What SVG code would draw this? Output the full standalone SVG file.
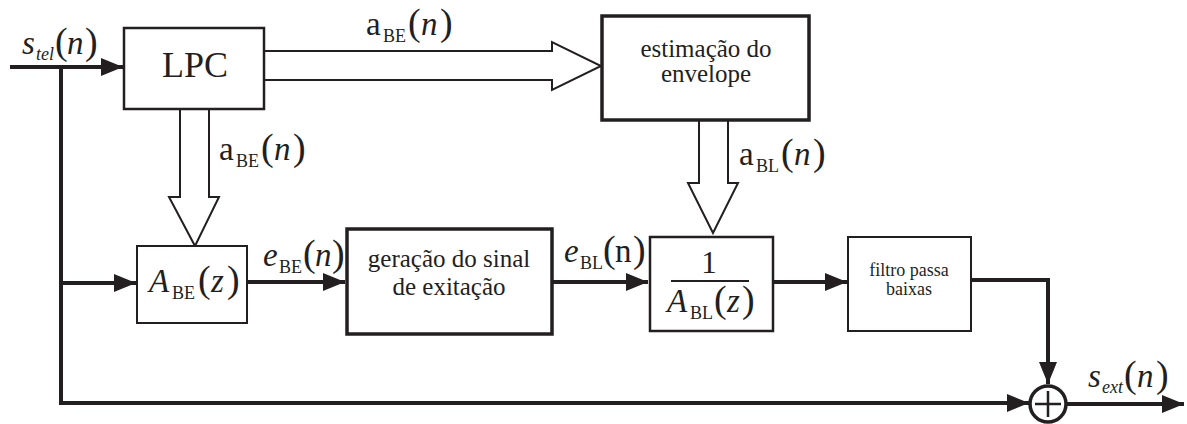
<svg xmlns="http://www.w3.org/2000/svg" width="1187" height="424" viewBox="0 0 1187 424">
<style>
.box{fill:#fff;stroke:#231f20}
.sig{fill:none;stroke:#231f20;stroke-width:4}
.hol{fill:#fff;stroke:#231f20;stroke-width:2;stroke-linejoin:miter}
</style>
<defs>
<marker id="ah" markerUnits="userSpaceOnUse" markerWidth="22" markerHeight="18" refX="22" refY="9" orient="auto">
<path d="M0,0 L22,9 L0,18 z" fill="#231f20"/>
</marker>
</defs>
<g id="connectors">
<path class="sig" d="M10,67 L123,67" marker-end="url(#ah)"/>
<path class="sig" d="M61,67 L61,403 L1029,403" marker-end="url(#ah)"/>
<path class="sig" d="M61,283 L136,283" marker-end="url(#ah)"/>
<path class="sig" d="M247,282 L345,282" marker-end="url(#ah)"/>
<path class="sig" d="M552,282 L648,282" marker-end="url(#ah)"/>
<path class="sig" d="M773,282 L847,282" marker-end="url(#ah)"/>
<path class="sig" d="M971,280 L1048,280 L1048,384" marker-end="url(#ah)"/>
<path class="sig" d="M1067,404 L1184,404" marker-end="url(#ah)"/>
<polygon class="hol" points="264,51 552,51 552,42 601,66 552,90 552,80 264,80"/>
<polygon class="hol" points="180,109 180,197 169,197 195,246 219,197 209,197 209,109"/>
<polygon class="hol" points="699,120 699,183 688,183 713,233 738,183 728,183 728,120"/>
<text y="54" font-family="Liberation Serif" fill="#231f20"><tspan x="22" font-size="33" font-style="italic">s</tspan><tspan x="36" y="60" font-size="18" font-style="italic">tel</tspan><tspan x="55" y="54" font-size="38">(</tspan><tspan x="67" font-size="33" font-style="italic">n</tspan><tspan x="85" font-size="38">)</tspan></text>
<text y="35" font-family="Liberation Serif" fill="#231f20"><tspan x="366" font-size="33">a</tspan><tspan x="383" y="42" font-size="18">BE</tspan><tspan x="408" y="35" font-size="38">(</tspan><tspan x="421" font-size="33" font-style="italic">n</tspan><tspan x="440" font-size="38">)</tspan></text>
<text y="160" font-family="Liberation Serif" fill="#231f20"><tspan x="219" font-size="33">a</tspan><tspan x="236" y="167" font-size="18">BE</tspan><tspan x="261" y="160" font-size="38">(</tspan><tspan x="274" font-size="33" font-style="italic">n</tspan><tspan x="293" font-size="38">)</tspan></text>
<text y="165" font-family="Liberation Serif" fill="#231f20"><tspan x="739" font-size="33">a</tspan><tspan x="756" y="172" font-size="18">BL</tspan><tspan x="781" y="165" font-size="38">(</tspan><tspan x="794" font-size="33" font-style="italic">n</tspan><tspan x="813" font-size="38">)</tspan></text>
<text y="266" font-family="Liberation Serif" fill="#231f20"><tspan x="263" font-size="33" font-style="italic">e</tspan><tspan x="279" y="273" font-size="18">BE</tspan><tspan x="303" y="266" font-size="38">(</tspan><tspan x="315" font-size="33" font-style="italic">n</tspan><tspan x="332" font-size="38">)</tspan></text>
<text y="262" font-family="Liberation Serif" fill="#231f20"><tspan x="564" font-size="33" font-style="italic">e</tspan><tspan x="580" y="269" font-size="18">BL</tspan><tspan x="603" y="262" font-size="38">(</tspan><tspan x="615" font-size="33">n</tspan><tspan x="633" font-size="38">)</tspan></text>
<text y="387" font-family="Liberation Serif" fill="#231f20"><tspan x="1088" font-size="33" font-style="italic">s</tspan><tspan x="1102" y="393" font-size="18" font-style="italic">ext</tspan><tspan x="1124" y="387" font-size="38">(</tspan><tspan x="1137" font-size="33" font-style="italic">n</tspan><tspan x="1156" font-size="38">)</tspan></text>
</g>
<g id="lpc">
<rect class="box" x="124" y="28" width="140" height="81" stroke-width="2.5"/>
<text x="195" y="77" font-family="Liberation Serif" font-size="36" text-anchor="middle" fill="#231f20">LPC</text>
</g>
<g id="estimacao">
<rect class="box" x="602" y="16" width="207" height="104" stroke-width="3.5"/>
<text x="706" y="57" font-family="Liberation Serif" font-size="25" text-anchor="middle" fill="#231f20">estimação do</text>
<text x="706" y="82" font-family="Liberation Serif" font-size="25" text-anchor="middle" fill="#231f20">envelope</text>
</g>
<g id="abe">
<rect class="box" x="137" y="246" width="110" height="77" stroke-width="2"/>
<text y="292" font-family="Liberation Serif" fill="#231f20"><tspan x="149" font-size="33" font-style="italic">A</tspan><tspan x="172" y="299" font-size="18">BE</tspan><tspan x="198" y="292" font-size="38">(</tspan><tspan x="211" font-size="33" font-style="italic">z</tspan><tspan x="227" font-size="38">)</tspan></text>
</g>
<g id="geracao">
<rect class="box" x="347" y="229" width="205" height="105" stroke-width="3.5"/>
<text x="449" y="267" font-family="Liberation Serif" font-size="25" text-anchor="middle" fill="#231f20">geração do sinal</text>
<text x="449" y="295" font-family="Liberation Serif" font-size="25" text-anchor="middle" fill="#231f20">de exitação</text>
</g>
<g id="sintese">
<rect class="box" x="650" y="237" width="123" height="94" stroke-width="2.5"/>
<text x="709" y="273" font-family="Liberation Serif" font-size="31" text-anchor="middle" fill="#231f20">1</text>
<line x1="671" y1="281" x2="749" y2="281" stroke="#231f20" stroke-width="2"/>
<text y="312" font-family="Liberation Serif" fill="#231f20"><tspan x="667" font-size="33" font-style="italic">A</tspan><tspan x="690" y="319" font-size="18">BL</tspan><tspan x="714" y="312" font-size="38">(</tspan><tspan x="727" font-size="33" font-style="italic">z</tspan><tspan x="742" font-size="38">)</tspan></text>
</g>
<g id="filtro">
<rect class="box" x="848" y="237" width="123" height="94" stroke-width="2"/>
<text x="909" y="276" font-family="Liberation Serif" font-size="18" text-anchor="middle" fill="#231f20">filtro passa</text>
<text x="909" y="295" font-family="Liberation Serif" font-size="18" text-anchor="middle" fill="#231f20">baixas</text>
</g>
<g id="soma">
<circle cx="1048" cy="404" r="18" fill="#fff" stroke="#231f20" stroke-width="3.5"/>
<path d="M1048,391 L1048,417 M1035,404 L1061,404" stroke="#231f20" stroke-width="2.5"/>
</g>
</svg>
